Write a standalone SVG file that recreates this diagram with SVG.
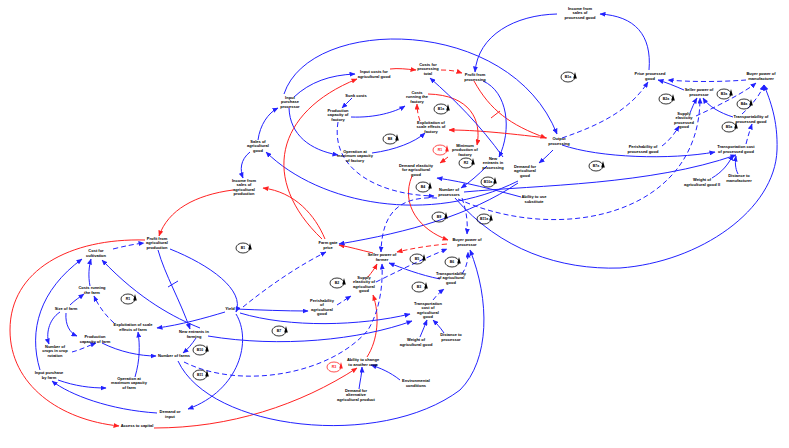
<svg xmlns="http://www.w3.org/2000/svg" width="789" height="448" viewBox="0 0 789 448">
<defs>
<marker id="ab" markerWidth="6" markerHeight="5" refX="5.5" refY="2.5" orient="auto" markerUnits="userSpaceOnUse"><path d="M0,0 L6,2.5 L0,5 Z" fill="#2222ff"/></marker>
<marker id="ar" markerWidth="6" markerHeight="5" refX="5.5" refY="2.5" orient="auto" markerUnits="userSpaceOnUse"><path d="M0,0 L6,2.5 L0,5 Z" fill="#ff2222"/></marker>
</defs>
<style>
text{font-family:"Liberation Sans",Arial,sans-serif;font-weight:bold;font-size:4px;fill:#000;text-anchor:middle}
.b{fill:none;stroke:#2222ff;stroke-width:1;marker-end:url(#ab)}
.bd{fill:none;stroke:#2222ff;stroke-width:1;stroke-dasharray:5,3;marker-end:url(#ab)}
.r{fill:none;stroke:#ff2222;stroke-width:1;marker-end:url(#ar)}
.rd{fill:none;stroke:#ff2222;stroke-width:1;stroke-dasharray:5,3;marker-end:url(#ar)}
.lp ellipse{fill:none;stroke:#000;stroke-width:0.8}
.lp path{fill:#000}
.lp text{font-size:3.5px}
.lr ellipse{stroke:#ff2222}
.lr path{fill:#ff2222}
.lr text{fill:#ff2222}
</style>
<rect width="789" height="448" fill="#fff"/>
<g id="connectors">
<path class="b" d="M284,94 C310,15 510,15 557,134"/>
<path class="b" d="M294,97 C310,82 330,75 355,74"/>
<path class="b" d="M289,108 C290,135 310,150 338,155"/>
<path class="b" d="M258,140 C260,125 268,113 278,108"/>
<path class="b" d="M250,152 C240,160 240,170 243,178"/>
<path class="b" d="M518,181 C430,225 320,205 266,152"/>
<path class="r" d="M325,239 C315,215 295,192 263,188"/>
<path class="r" d="M322,239 C260,180 275,112 357,79"/>
<path class="r" d="M233,190 C195,195 168,210 159,236"/>
<path class="r" d="M145,240 C70,238 10,270 10,330 C10,385 60,420 119,426"/>
<path class="r" d="M154,428 C230,428 300,405 357,368"/>
<path class="r" d="M367,357 C378,340 380,315 373,295"/>
<path class="r" d="M368,277 C372,272 375,268 377,264"/>
<path class="r" d="M373,253 C360,250 350,247 339,245"/>
<path class="rd" d="M447,244 C425,246 410,249 397,252"/>
<path class="b" d="M518,183 C470,215 410,232 339,244"/>
<path class="b" d="M553,150 C548,155 544,159 539,163"/>
<path class="b" d="M557,14 C515,15 478,35 475,72"/>
<path class="b" d="M649,70 C652,35 635,16 600,14"/>
<path class="r" d="M390,69 C398,68 406,69 416,70"/>
<path class="rd" d="M441,70 C450,70 456,71 462,73"/>
<path class="r" d="M474,81 C490,110 510,125 546,138"/>
<path class="b" d="M483,81 C508,92 512,130 499,157"/>
<path class="r" d="M547,138 C505,133 475,130 449,130"/>
<path class="rd" d="M420,121 C418,115 417,110 417,104"/>
<path class="r" d="M428,94 C470,95 482,120 477,145"/>
<path class="b" d="M351,117 C375,118 395,112 405,106"/>
<path class="b" d="M352,98 C348,102 345,105 342,108"/>
<path class="b" d="M372,153 C395,150 415,142 425,133"/>
<path class="b" d="M503,157 C480,125 455,100 430,78"/>
<path class="r" d="M448,157 C445,159 443,161 440,163"/>
<path class="r" d="M412,176 C400,205 420,230 448,240"/>
<path class="b" d="M521,197 C495,190 465,182 437,178"/>
<path class="b" d="M487,166 C478,175 470,182 461,188"/>
<path class="bd" d="M338,122 C330,170 380,195 434,196"/>
<path class="bd" d="M437,198 C400,196 382,212 381,252"/>
<path class="bd" d="M462,198 C466,210 468,220 467,234"/>
<path class="bd" d="M458,199 C560,245 700,215 700,98"/>
<path class="b" d="M455,198 C500,250 560,270 620,268 C700,262 775,210 777,150 C778,120 770,100 764,85"/>
<path class="b" d="M562,145 C600,158 670,160 715,152"/>
<path class="b" d="M464,192 C540,185 650,185 736,155"/>
<path class="bd" d="M562,138 C600,125 630,110 648,82"/>
<path class="b" d="M684,90 C675,86 665,82 658,80"/>
<path class="bd" d="M746,80 C720,82 690,82 668,80"/>
<path class="b" d="M690,113 C692,108 694,103 697,98"/>
<path class="b" d="M733,117 C720,113 708,106 703,98"/>
<path class="bd" d="M662,146 C670,140 675,133 679,126"/>
<path class="bd" d="M696,116 C720,105 745,92 756,83"/>
<path class="bd" d="M742,114 C752,105 760,95 764,85"/>
<path class="bd" d="M746,144 C748,136 750,130 752,124"/>
<path class="b" d="M712,178 C722,172 728,165 733,155"/>
<path class="b" d="M738,174 C735,168 735,162 736,156"/>
<path class="bd" d="M113,249 C125,246 135,244 144,243"/>
<path class="b" d="M158,250 C165,275 180,300 190,329"/>
<path class="b" d="M170,249 C210,265 245,290 236,312"/>
<path class="b" d="M90,286 C88,276 89,266 91,259"/>
<path class="b" d="M40,370 C28,330 40,290 82,259"/>
<path class="b" d="M200,328 C175,318 140,300 102,260"/>
<path class="b" d="M60,312 C48,320 46,335 49,344"/>
<path class="b" d="M66,313 C65,325 70,333 77,336"/>
<path class="b" d="M70,305 C75,300 80,297 84,294"/>
<path class="bd" d="M72,352 C80,350 88,346 96,343"/>
<path class="b" d="M102,343 C120,352 140,356 156,356"/>
<path class="bd" d="M114,323 C105,315 98,305 94,296"/>
<path class="b" d="M135,377 C140,360 140,345 138,332"/>
<path class="b" d="M58,380 C75,386 90,388 106,388"/>
<path class="b" d="M157,413 C110,410 70,395 52,381"/>
<path class="b" d="M225,312 C205,318 180,325 157,328"/>
<path class="b" d="M196,338 C192,344 188,349 183,353"/>
<path class="b" d="M178,361 C210,430 380,450 460,390 C490,360 490,300 470,250"/>
<path class="b" d="M236,314 C252,340 240,390 188,409"/>
<path class="bd" d="M184,362 C240,390 330,375 368,330 C380,310 383,285 382,264"/>
<path class="b" d="M236,309 C260,310 285,311 308,311"/>
<path class="bd" d="M243,307 C270,285 300,265 326,252"/>
<path class="bd" d="M337,305 C342,302 346,299 351,296"/>
<path class="b" d="M240,313 C290,328 360,326 410,314"/>
<path class="b" d="M208,336 C280,348 360,340 412,321"/>
<path class="b" d="M420,337 C423,330 425,325 427,320"/>
<path class="b" d="M444,333 C440,327 436,323 433,320"/>
<path class="bd" d="M433,300 C436,296 440,292 444,289"/>
<path class="b" d="M440,279 C420,275 402,268 389,263"/>
<path class="bd" d="M462,274 C466,268 468,262 468,252"/>
<path class="bd" d="M376,282 C400,270 425,258 447,249"/>
<path class="b" d="M400,380 C390,372 380,368 371,365"/>
<path class="b" d="M359,389 C360,381 362,373 362,367"/>
</g>
<g stroke="#ff2222" stroke-width="1"><line x1="491" y1="118" x2="500" y2="111"/></g>
<g stroke="#2222ff" stroke-width="1"><line x1="168" y1="287" x2="178" y2="281"/></g>

<g id="n_income_proc"><text x="580" y="10.1">Income from<tspan x="580" dy="4.3">sales of</tspan><tspan x="580" dy="4.3">processed good</tspan></text></g>
<g id="n_price_proc"><text x="650" y="75.25">Price processed<tspan x="650" dy="4.3">good</tspan></text></g>
<g id="n_buyer_manu"><text x="761" y="75.25">Buyer power of<tspan x="761" dy="4.3">manufacturer</tspan></text></g>
<g id="n_seller_proc"><text x="699" y="91.25">Seller power of<tspan x="699" dy="4.3">processor</tspan></text></g>
<g id="n_supply_el_proc"><text x="684" y="114.95">Supply<tspan x="684" dy="4.3">elasticity</tspan><tspan x="684" dy="4.3">processed</tspan><tspan x="684" dy="4.3">good</tspan></text></g>
<g id="n_transp_proc"><text x="751" y="118.25">Transportability of<tspan x="751" dy="4.3">processed good</tspan></text></g>
<g id="n_perish_proc"><text x="643" y="148.25">Perishability of<tspan x="643" dy="4.3">processed good</tspan></text></g>
<g id="n_transcost_proc"><text x="736" y="148.25">Transportation cost<tspan x="736" dy="4.3">of processed good</tspan></text></g>
<g id="n_weight2"><text x="702" y="181.25">Weight of<tspan x="702" dy="4.3">agricultural good II</tspan></text></g>
<g id="n_dist_manu"><text x="739" y="177.25">Distance to<tspan x="739" dy="4.3">manufacturer</tspan></text></g>
<g id="n_output_proc"><text x="559" y="140.25">Output<tspan x="559" dy="4.3">processing</tspan></text></g>
<g id="n_profit_proc"><text x="475" y="76.25">Profit from<tspan x="475" dy="4.3">processing</tspan></text></g>
<g id="n_costs_total"><text x="428" y="66.1">Costs for<tspan x="428" dy="4.3">processing</tspan><tspan x="428" dy="4.3">total</tspan></text></g>
<g id="n_input_costs"><text x="374" y="73.25">Input costs for<tspan x="374" dy="4.3">agricultural good</tspan></text></g>
<g id="n_input_purch_proc"><text x="290" y="99.1">Input<tspan x="290" dy="4.3">purchase</tspan><tspan x="290" dy="4.3">processor</tspan></text></g>
<g id="n_sunk"><text x="356" y="97.4">Sunk costs</text></g>
<g id="n_prodcap_fact"><text x="338" y="112.1">Production<tspan x="338" dy="4.3">capacity of</tspan><tspan x="338" dy="4.3">factory</tspan></text></g>
<g id="n_costs_run_fact"><text x="417" y="94.1">Costs<tspan x="417" dy="4.3">running the</tspan><tspan x="417" dy="4.3">factory</tspan></text></g>
<g id="n_exploit_fact"><text x="431" y="124.1">Exploitation of<tspan x="431" dy="4.3">scale effects of</tspan><tspan x="431" dy="4.3">factory</tspan></text></g>
<g id="n_opmax_fact"><text x="355" y="153.1">Operation at<tspan x="355" dy="4.3">maximum capacity</tspan><tspan x="355" dy="4.3">of factory</tspan></text></g>
<g id="n_sales_ag"><text x="258" y="143.1">Sales of<tspan x="258" dy="4.3">agricultural</tspan><tspan x="258" dy="4.3">good</tspan></text></g>
<g id="n_income_ag"><text x="244" y="181.95">Income from<tspan x="244" dy="4.3">sales of</tspan><tspan x="244" dy="4.3">agricultural</tspan><tspan x="244" dy="4.3">production</tspan></text></g>
<g id="n_minprod"><text x="465" y="147.1">Minimum<tspan x="465" dy="4.3">production of</tspan><tspan x="465" dy="4.3">factory</tspan></text></g>
<g id="n_demand_el"><text x="416" y="167.1">Demand elasticity<tspan x="416" dy="4.3">for agricultural</tspan><tspan x="416" dy="4.3">good</tspan></text></g>
<g id="n_new_proc"><text x="493" y="160.1">New<tspan x="493" dy="4.3">entrants in</tspan><tspan x="493" dy="4.3">processing</tspan></text></g>
<g id="n_demand_ag"><text x="525" y="168.1">Demand for<tspan x="525" dy="4.3">agricultural</tspan><tspan x="525" dy="4.3">good</tspan></text></g>
<g id="n_num_proc"><text x="449" y="191.25">Number of<tspan x="449" dy="4.3">processors</tspan></text></g>
<g id="n_substitute"><text x="534" y="198.25">Ability to use<tspan x="534" dy="4.3">substitute</tspan></text></g>
<g id="n_buyer_proc"><text x="467" y="241.25">Buyer power of<tspan x="467" dy="4.3">processor</tspan></text></g>
<g id="n_transp_ag"><text x="451" y="275.1">Transportability<tspan x="451" dy="4.3">of agricultural</tspan><tspan x="451" dy="4.3">good</tspan></text></g>
<g id="n_seller_farm"><text x="382" y="256.25">Seller power of<tspan x="382" dy="4.3">farmer</tspan></text></g>
<g id="n_farmgate"><text x="328" y="244.25">Farm gate<tspan x="328" dy="4.3">price</tspan></text></g>
<g id="n_supply_el_ag"><text x="364" y="278.95">Supply<tspan x="364" dy="4.3">elasticity of</tspan><tspan x="364" dy="4.3">agricultural</tspan><tspan x="364" dy="4.3">good</tspan></text></g>
<g id="n_profit_ag"><text x="157" y="240.1">Profit from<tspan x="157" dy="4.3">agricultural</tspan><tspan x="157" dy="4.3">production</tspan></text></g>
<g id="n_cost_cult"><text x="96" y="252.25">Cost for<tspan x="96" dy="4.3">cultivation</tspan></text></g>
<g id="n_costs_run_farm"><text x="92" y="289.25">Costs running<tspan x="92" dy="4.3">the farm</tspan></text></g>
<g id="n_size_farm"><text x="66" y="310.4">Size of farm</text></g>
<g id="n_prodcap_farm"><text x="95" y="338.25">Production<tspan x="95" dy="4.3">capacity of farm</tspan></text></g>
<g id="n_num_crops"><text x="55" y="348.1">Number of<tspan x="55" dy="4.3">crops in crop</tspan><tspan x="55" dy="4.3">rotation</tspan></text></g>
<g id="n_exploit_farm"><text x="133" y="326.25">Exploitation of scale<tspan x="133" dy="4.3">effects of farm</tspan></text></g>
<g id="n_yield"><text x="230" y="310.4">Yield</text></g>
<g id="n_perish_ag"><text x="322" y="301.95">Perishability<tspan x="322" dy="4.3">of</tspan><tspan x="322" dy="4.3">agricultural</tspan><tspan x="322" dy="4.3">good</tspan></text></g>
<g id="n_new_farm"><text x="194" y="333.25">New entrants in<tspan x="194" dy="4.3">farming</tspan></text></g>
<g id="n_num_farms"><text x="174" y="357.4">Number of farms</text></g>
<g id="n_input_purch_farm"><text x="49" y="374.25">Input purchase<tspan x="49" dy="4.3">by farm</tspan></text></g>
<g id="n_opmax_farm"><text x="129" y="380.1">Operation at<tspan x="129" dy="4.3">maximum capacity</tspan><tspan x="129" dy="4.3">of farm</tspan></text></g>
<g id="n_demand_input"><text x="170" y="413.25">Demand or<tspan x="170" dy="4.3">input</tspan></text></g>
<g id="n_access_cap"><text x="137" y="427.4">Access to capital</text></g>
<g id="n_ability_change"><text x="363" y="361.25">Ability to change<tspan x="363" dy="4.3">to another crop</tspan></text></g>
<g id="n_demand_alt"><text x="356" y="392.1">Demand for<tspan x="356" dy="4.3">alternative</tspan><tspan x="356" dy="4.3">agricultural product</tspan></text></g>
<g id="n_env"><text x="416" y="382.25">Environmental<tspan x="416" dy="4.3">conditions</tspan></text></g>
<g id="n_transcost_ag"><text x="428" y="304.95">Transportation<tspan x="428" dy="4.3">cost of</tspan><tspan x="428" dy="4.3">agricultural</tspan><tspan x="428" dy="4.3">good</tspan></text></g>
<g id="n_weight_ag"><text x="416" y="341.25">Weight of<tspan x="416" dy="4.3">agricultural good</tspan></text></g>
<g id="n_dist_proc"><text x="451" y="336.25">Distance to<tspan x="451" dy="4.3">processor</tspan></text></g>

<g id="loop_B1a" class="lp" transform="translate(568,77)"><ellipse rx="7" ry="5"/><path d="M5.2,1.5 L8.8,1.5 L7,-5 Z"/><text y="1.3">B1a</text></g>
<g id="loop_B2a" class="lp" transform="translate(666,99)"><ellipse rx="7" ry="5"/><path d="M5.2,1.5 L8.8,1.5 L7,-5 Z"/><text y="1.3">B2a</text></g>
<g id="loop_B3a" class="lp" transform="translate(724,94)"><ellipse rx="7" ry="5"/><path d="M5.2,1.5 L8.8,1.5 L7,-5 Z"/><text y="1.3">B3a</text></g>
<g id="loop_B4a" class="lp" transform="translate(744,104)"><ellipse rx="7" ry="5"/><path d="M5.2,1.5 L8.8,1.5 L7,-5 Z"/><text y="1.3">B4a</text></g>
<g id="loop_B5a" class="lp" transform="translate(729,127)"><ellipse rx="7" ry="5"/><path d="M5.2,1.5 L8.8,1.5 L7,-5 Z"/><text y="1.3">B5a</text></g>
<g id="loop_B7a" class="lp" transform="translate(596,166)"><ellipse rx="7" ry="5"/><path d="M5.2,1.5 L8.8,1.5 L7,-5 Z"/><text y="1.3">B7a</text></g>
<g id="loop_B9a" class="lp" transform="translate(441,109)"><ellipse rx="7" ry="5"/><path d="M5.2,1.5 L8.8,1.5 L7,-5 Z"/><text y="1.3">B1a</text></g>
<g id="loop_B8" class="lp" transform="translate(390,139)"><ellipse rx="7" ry="5"/><path d="M5.2,1.5 L8.8,1.5 L7,-5 Z"/><text y="1.3">B8</text></g>
<g id="loop_R1a" class="lp lr" transform="translate(440,150)"><ellipse rx="7" ry="5"/><path d="M5.2,1.5 L8.8,1.5 L7,-5 Z"/><text y="1.3">R1</text></g>
<g id="loop_R2" class="lp" transform="translate(466,163)"><ellipse rx="7" ry="5"/><path d="M5.2,1.5 L8.8,1.5 L7,-5 Z"/><text y="1.3">R2</text></g>
<g id="loop_B4" class="lp" transform="translate(423,187)"><ellipse rx="7" ry="5"/><path d="M5.2,1.5 L8.8,1.5 L7,-5 Z"/><text y="1.3">B4</text></g>
<g id="loop_B10a" class="lp" transform="translate(488,182)"><ellipse rx="7" ry="5"/><path d="M5.2,1.5 L8.8,1.5 L7,-5 Z"/><text y="1.3">B10a</text></g>
<g id="loop_B9" class="lp" transform="translate(439,217)"><ellipse rx="7" ry="5"/><path d="M5.2,1.5 L8.8,1.5 L7,-5 Z"/><text y="1.3">B9</text></g>
<g id="loop_B11a" class="lp" transform="translate(484,219)"><ellipse rx="7" ry="5"/><path d="M5.2,1.5 L8.8,1.5 L7,-5 Z"/><text y="1.3">B11a</text></g>
<g id="loop_B5" class="lp" transform="translate(417,259)"><ellipse rx="7" ry="5"/><path d="M5.2,1.5 L8.8,1.5 L7,-5 Z"/><text y="1.3">B5</text></g>
<g id="loop_B6" class="lp" transform="translate(452,262)"><ellipse rx="7" ry="5"/><path d="M5.2,1.5 L8.8,1.5 L7,-5 Z"/><text y="1.3">B6</text></g>
<g id="loop_B3" class="lp" transform="translate(419,287)"><ellipse rx="7" ry="5"/><path d="M5.2,1.5 L8.8,1.5 L7,-5 Z"/><text y="1.3">B3</text></g>
<g id="loop_B2" class="lp" transform="translate(337,283)"><ellipse rx="7" ry="5"/><path d="M5.2,1.5 L8.8,1.5 L7,-5 Z"/><text y="1.3">B2</text></g>
<g id="loop_B1" class="lp" transform="translate(243,248)"><ellipse rx="7" ry="5"/><path d="M5.2,1.5 L8.8,1.5 L7,-5 Z"/><text y="1.3">B1</text></g>
<g id="loop_R1" class="lp" transform="translate(128,299)"><ellipse rx="7" ry="5"/><path d="M5.2,1.5 L8.8,1.5 L7,-5 Z"/><text y="1.3">R1</text></g>
<g id="loop_B7" class="lp" transform="translate(279,331)"><ellipse rx="7" ry="5"/><path d="M5.2,1.5 L8.8,1.5 L7,-5 Z"/><text y="1.3">B7</text></g>
<g id="loop_B10" class="lp" transform="translate(200,350)"><ellipse rx="7" ry="5"/><path d="M5.2,1.5 L8.8,1.5 L7,-5 Z"/><text y="1.3">B10</text></g>
<g id="loop_B11" class="lp" transform="translate(200,375)"><ellipse rx="7" ry="5"/><path d="M5.2,1.5 L8.8,1.5 L7,-5 Z"/><text y="1.3">B11</text></g>
<g id="loop_R3" class="lp lr" transform="translate(334,367)"><ellipse rx="7" ry="5"/><path d="M5.2,1.5 L8.8,1.5 L7,-5 Z"/><text y="1.3">R3</text></g>
</svg>
